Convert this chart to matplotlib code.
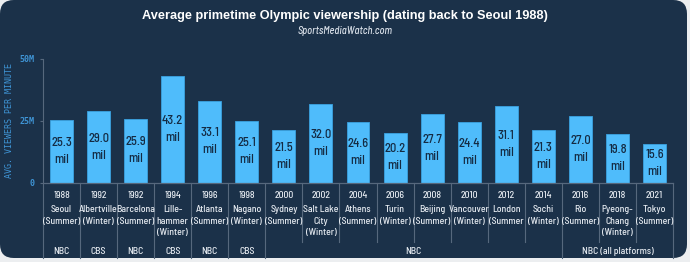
import matplotlib
matplotlib.use("Agg")
import matplotlib.pyplot as plt
from matplotlib.patches import FancyBboxPatch
from matplotlib.transforms import blended_transform_factory
from matplotlib import font_manager as fm

years = ["1988", "1992", "1992", "1994", "1996", "1998", "2000", "2002", "2004",
         "2006", "2008", "2010", "2012", "2014", "2016", "2018", "2021"]
viewers = [25.3, 29.0, 25.9, 43.2, 33.1, 25.1, 21.5, 32.0, 24.6,
           20.2, 27.7, 24.4, 31.1, 21.3, 27.0, 19.8, 15.6]
cities = ["Seoul\n(Summer)", "Albertville\n(Winter)", "Barcelona\n(Summer)",
          "Lille-\nhammer\n(Winter)", "Atlanta\n(Summer)", "Nagano\n(Winter)",
          "Sydney\n(Summer)", "Salt Lake\nCity\n(Winter)", "Athens\n(Summer)",
          "Turin\n(Winter)", "Beijing\n(Summer)", "Vancouver\n(Winter)",
          "London\n(Summer", "Sochi\n(Winter)", "Rio\n(Summer)",
          "Pyeong-\nChang\n(Winter)", "Tokyo\n(Summer)"]
networks = ["NBC", "CBS", "NBC", "CBS", "NBC", "CBS", "NBC", "NBC (all platforms)"]
network_spans = [1, 1, 1, 1, 1, 1, 8, 3]
yticks = [0, 25, 50]
ytick_labels = ["0", "25M", "50M"]

W, H = 690, 262
BG = "#1b3149"
BAR = "#4fbcfb"
LINE = "#56687d"
TXT = "#e6ebf1"
BLUE = "#3f95d6"

names = {f.name for f in fm.fontManager.ttflist}
if "Barlow Semi Condensed" in names:
    COND = dict(family=["Barlow Semi Condensed", "DejaVu Sans"], weight="medium")
    CS = 1.0
else:
    COND = dict(family=["Roboto", "DejaVu Sans"])
    CS = 0.78

fig = plt.figure(figsize=(W / 100, H / 100), dpi=100)
fig.patch.set_facecolor("#eceef0")
bg = FancyBboxPatch((0, 4 / H), 687 / W, 1 - 4 / H,
                    boxstyle="round,pad=0,rounding_size=0.02",
                    transform=fig.transFigure, facecolor=BG, edgecolor="none",
                    mutation_aspect=W / H, zorder=-10)
fig.patches.append(bg)

def fy(px):
    return (H - px) / H

ax = fig.add_axes([43 / W, fy(183), 630 / W, 124 / H])
ax.set_zorder(5)
ax.set_facecolor("none")
n = len(viewers)
x = list(range(n))
ax.bar(x, viewers, width=0.62, color=BAR, edgecolor="#3aa2e0", linewidth=0.6, zorder=2)
for xi, v in zip(x, viewers):
    ax.text(xi, v / 2, f"{v:.1f}\nmil", ha="center", va="center", color="#142a42",
            fontsize=9 * CS, linespacing=1.55, **COND)
ax.set_xlim(-0.5, n - 0.5)
ax.set_ylim(0, 50)
ax.set_xticks([])
ax.set_yticks(yticks)
ax.set_yticklabels(ytick_labels, family="DejaVu Sans Mono", fontsize=6,
                   color=BLUE, fontweight="bold")
ax.tick_params(axis="y", length=2, color=LINE, pad=4)
for s in ["top", "right", "bottom"]:
    ax.spines[s].set_visible(False)
ax.spines["left"].set_color(LINE)
ax.spines["left"].set_linewidth(0.8)
ax.set_ylabel("AVG. VIEWERS PER MINUTE", family="DejaVu Sans Mono", fontsize=6,
              color=BLUE)
ax.yaxis.set_label_coords(-29 / 630, 0.5)

tr = blended_transform_factory(ax.transData, fig.transFigure)
ax.plot([-0.5, n - 0.5], [fy(183), fy(183)], transform=tr, color=LINE, lw=0.9,
        clip_on=False)
full = {0}
acc = 0
for s in network_spans:
    acc += s
    full.add(acc)
for b in range(n + 1):
    bottom = 258 if b in full else 242
    ax.plot([b - 0.5, b - 0.5], [fy(183), fy(bottom)], transform=tr, color=LINE,
            lw=0.8, clip_on=False)

for xi, (yr, c) in enumerate(zip(years, cities)):
    ax.text(xi, fy(195), yr, transform=tr, ha="center", va="center", color=TXT,
            fontsize=7 * CS, **COND)
    ax.text(xi, fy(205), c, transform=tr, ha="center", va="top", color=TXT,
            fontsize=7 * CS, linespacing=1.38, **COND)

acc = 0
for name, s in zip(networks, network_spans):
    cx = acc + (s - 1) / 2
    ax.text(cx, fy(251), name, transform=tr, ha="center", va="center", color=TXT,
            fontsize=7 * CS, **COND)
    acc += s

fig.text(0.5, fy(16), "Average primetime Olympic viewership (dating back to Seoul 1988)",
         ha="center", va="center", color="white", fontsize=9.2, fontweight="bold",
         family=["Liberation Sans", "DejaVu Sans"])
fig.text(0.5, fy(31), "SportsMediaWatch.com", ha="center", va="center",
         color="#d7dee7", fontsize=7.5 * CS, style="italic", **COND)

fig.savefig("out.png", dpi=100, facecolor=fig.get_facecolor())
